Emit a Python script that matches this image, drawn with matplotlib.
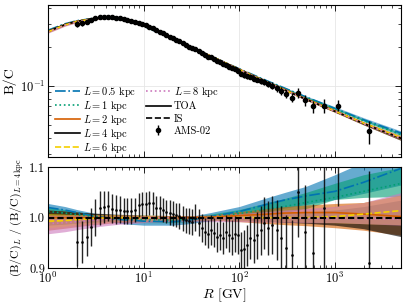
import numpy as np
import matplotlib.pyplot as plt
from matplotlib.ticker import NullFormatter, FixedLocator
from matplotlib.lines import Line2D

plt.rcParams['font.family'] = 'serif'
plt.rcParams['font.serif'] = ['cmr10', 'DejaVu Serif']
plt.rcParams['mathtext.fontset'] = 'cm'
plt.rcParams['axes.formatter.use_mathtext'] = True
plt.rcParams['axes.unicode_minus'] = False

# model grid (rigidity, GV) and L=4 kpc B/C
R_grid = [1, 1.5, 2, 3, 4, 5, 7, 10, 20, 30, 50, 100, 200, 300, 500, 1000, 2000, 5000]
bc_L4 = [0.263, 0.296, 0.314, 0.330, 0.334, 0.331, 0.317, 0.291, 0.232, 0.202,
         0.170, 0.134, 0.106, 0.093, 0.079, 0.064, 0.0515, 0.0395]

# ratios to L=4 kpc: central, lower, upper
r05 = [1.020, 1.015, 1.010, 1.003, 1.000, 0.997, 0.995, 0.993, 0.992, 0.995, 1.002, 1.012, 1.027, 1.035, 1.043, 1.052, 1.070, 1.098]
r05_lo = [1.012, 1.008, 1.004, 0.997, 0.993, 0.990, 0.987, 0.985, 0.985, 0.988, 0.994, 1.002, 1.012, 1.019, 1.026, 1.036, 1.048, 1.065]
r05_hi = [1.028, 1.022, 1.016, 1.009, 1.006, 1.003, 1.001, 0.999, 0.998, 1.002, 1.010, 1.022, 1.040, 1.050, 1.062, 1.085, 1.110, 1.140]
r1 = [1.012, 1.009, 1.006, 1.002, 1.000, 0.998, 0.997, 0.996, 0.995, 0.997, 1.001, 1.008, 1.017, 1.022, 1.030, 1.040, 1.052, 1.068]
r1_lo = [1.004, 1.002, 1.000, 0.997, 0.995, 0.993, 0.991, 0.990, 0.990, 0.992, 0.995, 0.999, 1.005, 1.010, 1.018, 1.036, 1.040, 1.042]
r1_hi = [1.020, 1.016, 1.012, 1.007, 1.005, 1.003, 1.002, 1.001, 1.000, 1.002, 1.007, 1.016, 1.030, 1.038, 1.050, 1.068, 1.085, 1.100]
r2 = [1.000, 1.000, 1.000, 1.000, 1.000, 1.000, 1.000, 1.000, 1.000, 1.000, 1.001, 1.004, 1.007, 1.009, 1.010, 1.010, 1.007, 1.002]
r2_lo = [0.975, 0.979, 0.982, 0.986, 0.988, 0.990, 0.991, 0.992, 0.994, 0.995, 0.995, 0.992, 0.988, 0.986, 0.984, 0.980, 0.975, 0.965]
r2_hi = [1.015, 1.013, 1.011, 1.008, 1.007, 1.006, 1.005, 1.004, 1.003, 1.003, 1.005, 1.012, 1.018, 1.022, 1.025, 1.028, 1.030, 1.045]
r4 = [1.0] * 18
r4_lo = [0.985, 0.987, 0.989, 0.991, 0.992, 0.993, 0.994, 0.995, 0.996, 0.996, 0.996, 0.995, 0.993, 0.991, 0.989, 0.985, 0.978, 0.962]
r4_hi = [1.015, 1.013, 1.011, 1.009, 1.008, 1.007, 1.006, 1.005, 1.004, 1.004, 1.004, 1.005, 1.007, 1.009, 1.011, 1.015, 1.022, 1.035]
r6 = [0.993, 0.994, 0.996, 0.998, 0.999, 1.000, 1.000, 1.000, 1.000, 1.000, 1.000, 1.000, 1.000, 1.000, 1.000, 1.002, 1.007, 1.014]
r6_lo = [0.980, 0.983, 0.986, 0.989, 0.991, 0.992, 0.993, 0.994, 0.995, 0.995, 0.995, 0.994, 0.993, 0.992, 0.991, 0.990, 0.988, 0.986]
r6_hi = [1.008, 1.007, 1.006, 1.006, 1.006, 1.006, 1.005, 1.005, 1.004, 1.004, 1.004, 1.005, 1.008, 1.010, 1.013, 1.020, 1.030, 1.045]
r8 = [0.988, 0.990, 0.992, 0.995, 0.997, 0.998, 0.999, 1.000, 1.000, 1.000, 1.000, 0.999, 0.999, 0.999, 0.999, 0.998, 0.998, 0.997]
r8_lo = [0.968, 0.972, 0.976, 0.981, 0.984, 0.986, 0.988, 0.990, 0.992, 0.992, 0.992, 0.992, 0.991, 0.991, 0.990, 0.990, 0.988, 0.985]
r8_hi = [1.005, 1.005, 1.005, 1.005, 1.005, 1.005, 1.005, 1.004, 1.004, 1.004, 1.005, 1.008, 1.012, 1.015, 1.018, 1.022, 1.030, 1.050]

# AMS-02 B/C
R_ams = [2.03, 2.27, 2.53, 2.82, 3.13, 3.46, 3.83, 4.22, 4.65, 5.12,
         5.63, 6.18, 6.77, 7.42, 8.11, 8.86, 9.67, 10.5, 11.5, 12.5,
         13.5, 14.7, 15.9, 17.3, 18.7, 20.3, 21.9, 23.7, 25.7, 27.7,
         29.9, 32.3, 34.8, 37.5, 40.4, 43.5, 46.8, 50.3, 54.1, 58.2,
         62.5, 67.2, 72.3, 77.6, 83.4, 89.7, 96.4, 104, 112, 120,
         130, 141, 153, 167, 183, 201, 222, 246, 275, 310,
         354, 409, 481, 589, 762, 1070, 2250]
bc_ams = [0.299, 0.303, 0.311, 0.322, 0.331, 0.339, 0.340, 0.342, 0.339, 0.335,
          0.331, 0.326, 0.322, 0.317, 0.311, 0.307, 0.301, 0.294, 0.286, 0.278,
          0.269, 0.262, 0.254, 0.247, 0.240, 0.233, 0.226, 0.220, 0.213, 0.207,
          0.201, 0.196, 0.192, 0.186, 0.179, 0.173, 0.168, 0.166, 0.160, 0.155,
          0.152, 0.148, 0.146, 0.141, 0.137, 0.135, 0.131, 0.124, 0.121, 0.119,
          0.118, 0.114, 0.112, 0.110, 0.108, 0.104, 0.101, 0.0967, 0.0919, 0.0865,
          0.0816, 0.0885, 0.0778, 0.0699, 0.0709, 0.0709, 0.0452]
ratio_ams = [0.951, 0.951, 0.962, 0.982, 1.000, 1.020, 1.021, 1.023, 1.018, 1.016,
             1.016, 1.013, 1.013, 1.013, 1.015, 1.025, 1.027, 1.027, 1.029, 1.028,
             1.020, 1.020, 1.015, 1.012, 1.010, 1.008, 1.005, 1.003, 0.998, 0.995,
             0.993, 0.992, 1.000, 0.990, 0.980, 0.972, 0.968, 0.975, 0.970, 0.962,
             0.966, 0.960, 0.972, 0.965, 0.960, 0.968, 0.965, 0.935, 0.937, 0.945,
             0.960, 0.955, 0.965, 0.975, 0.990, 0.980, 0.985, 0.975, 0.960, 0.940,
             0.925, 1.050, 0.972, 0.930, 1.020, 1.130, 0.910]
relerr_ams = [0.050, 0.044, 0.040, 0.038, 0.036, 0.033, 0.031, 0.030, 0.029, 0.028,
              0.027, 0.026, 0.025, 0.025, 0.024, 0.024, 0.024, 0.024, 0.023, 0.023,
              0.023, 0.023, 0.023, 0.023, 0.024, 0.024, 0.024, 0.025, 0.025, 0.025,
              0.026, 0.026, 0.027, 0.027, 0.028, 0.028, 0.029, 0.030, 0.030, 0.031,
              0.032, 0.033, 0.034, 0.035, 0.036, 0.037, 0.038, 0.040, 0.041, 0.043,
              0.044, 0.046, 0.048, 0.050, 0.052, 0.055, 0.058, 0.061, 0.065, 0.070,
              0.075, 0.085, 0.095, 0.105, 0.120, 0.095, 0.200]

models = [
    ('$L = 0.5$ kpc', '#0173B2', '-.', r05, r05_lo, r05_hi),
    ('$L = 1$ kpc', '#029E73', ':', r1, r1_lo, r1_hi),
    ('$L = 2$ kpc', '#D55E00', '-', r2, r2_lo, r2_hi),
    ('$L = 4$ kpc', 'k', '-', r4, r4_lo, r4_hi),
    ('$L = 6$ kpc', '#F5D000', '--', r6, r6_lo, r6_hi),
    ('$L = 8$ kpc', '#CC78BC', ':', r8, r8_lo, r8_hi),
]

R = np.array(R_grid)
base = np.array(bc_L4)
Ra = np.array(R_ams)
bca = np.array(bc_ams)
rat = np.array(ratio_ams)
rel = np.array(relerr_ams)

fig = plt.figure(figsize=(4.07, 3.05), dpi=100)
ax1 = fig.add_axes([0.118, 0.485, 0.867, 0.499])
ax2 = fig.add_axes([0.118, 0.121, 0.867, 0.331], sharex=ax1)

handles = []
for lab, col, ls, r, lo, hi in models:
    ax1.fill_between(R, base * np.array(lo), base * np.array(hi), color=col, alpha=0.5, lw=0)
    ax1.plot(R, base * np.array(r), color=col, ls=ls, lw=1.2)
    ax2.fill_between(R, lo, hi, color=col, alpha=0.6, lw=0)
    if lab != '$L = 4$ kpc':
        ax2.plot(R, r, color=col, ls=ls, lw=1.2)
    handles.append(Line2D([], [], color=col, ls=ls, lw=1.2, label=lab))

ax2.axhline(1.0, color='k', ls='--', lw=1.5, dashes=(3, 1.5))

ax1.errorbar(Ra, bca, yerr=bca * rel, fmt='o', color='k', ms=3, elinewidth=1, capsize=0)
ax2.errorbar(Ra, rat, yerr=rat * rel, fmt='.', color='k', ms=2, elinewidth=1, capsize=0, alpha=0.85)

h_toa = Line2D([], [], color='k', ls='-', lw=1.2, label='TOA')
h_is = Line2D([], [], color='k', ls='--', lw=1.2, label='IS')
h_ams = ax1.errorbar([], [], yerr=[], fmt='o', color='k', ms=3, elinewidth=1, label='AMS-02')

leg_kw = dict(frameon=False, fontsize=7.5, handlelength=2.4, handletextpad=0.3, borderaxespad=0)
leg1 = ax1.legend(handles=handles[:5], loc='upper left', bbox_to_anchor=(0.008, 0.50),
                  labelspacing=0.0, **leg_kw)
ax1.add_artist(leg1)
ax1.legend(handles=[handles[5], h_toa, h_is, h_ams], loc='upper left',
           bbox_to_anchor=(0.265, 0.50), labelspacing=0.26, **leg_kw)

ax1.set_xscale('log')
ax1.set_yscale('log')
ax1.set_xlim(1, 4900)
ax1.set_ylim(0.0285, 0.42)
ax1.yaxis.set_minor_formatter(NullFormatter())
ax1.set_ylabel('B/C', fontsize=10, labelpad=2)
plt.setp(ax1.get_xticklabels(), visible=False)

ax2.set_ylim(0.9, 1.1)
ax2.yaxis.set_major_locator(FixedLocator([0.9, 1.0, 1.1]))
ax2.set_yticklabels(['0.9', '1.0', '1.1'])
ax2.set_xlabel(r'$R$ [GV]', fontsize=10, labelpad=0)
ax2.set_ylabel(r'$(\mathrm{B/C})_L\ /\ (\mathrm{B/C})_{L=4\,\mathrm{kpc}}$', fontsize=8.5, labelpad=2)

for ax in (ax1, ax2):
    ax.grid(True, which='major', color='#e6e6e6', lw=0.6)
    ax.set_axisbelow(True)
    ax.tick_params(which='both', direction='in', top=True, right=True, labelsize=9, pad=2)
    ax.tick_params(which='major', length=4, width=0.6)
    ax.tick_params(which='minor', length=2, width=0.5)
    for s in ax.spines.values():
        s.set_linewidth(0.8)

fig.align_ylabels([ax1, ax2])
fig.savefig('out.png', dpi=100)
